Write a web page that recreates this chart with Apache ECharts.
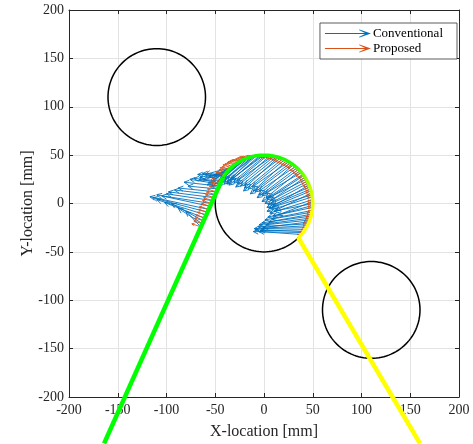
<!DOCTYPE html>
<html lang="en">
<head>
    <meta charset="UTF-8">
    <title>Quiver along path</title>
    <script src="https://cdn.jsdelivr.net/npm/echarts@6.0.0/dist/echarts.min.js"></script>
    <style>
        body { margin: 0; padding: 0; background: #fff; }
        #chart-container { width: 473px; height: 444px; }
    </style>
</head>
<body>
    <div id="chart-container"></div>
    <script>
        // axis ticks
        const xTicks = [-200, -150, -100, -50, 0, 50, 100, 150, 200];
        const yTicks = [-200, -150, -100, -50, 0, 50, 100, 150, 200];

        // obstacles (center x, center y, radius)
        const circleX = [-110, 0, 110];
        const circleY = [110, 0, -110];
        const circleR = [50, 50, 50];

        // path: incoming straight line, arc around middle circle, outgoing line
        const greenX = [-164, -42];
        const greenY = [-248, 27];
        const arcFrom = 147;   // degrees
        const arcTo = -45;
        const yellowX = [35, 160];
        const yellowY = [-35, -248];

        // arrow start points (on the path)
        const startX = [-65, -62, -59, -57, -54, -51, -49, -46, -44,
            -41, -38, -35, -32, -29, -25, -21, -17, -13, -9, -4, 0, 4, 9, 13, 17, 21, 25, 29, 32,
            35, 38, 41, 43, 45, 47, 48, 49, 50, 50, 50, 49, 48, 47, 45, 43, 41, 38,
            -63, -61, -58, -55, -53, -50, -47, -45,
            -40, -37, -34, -30, -27, -23, -19, -15, -11, -7, -2, 2, 7, 11, 15, 19, 23, 27, 30,
            34, 37, 40, 42, 44, 46, 48, 49, 50, 50, 50, 50, 49, 48, 46, 44, 42, 40];
        const startY = [-24, -18, -12, -6, 0, 6, 12, 18, 23,
            29, 32, 35, 38, 41, 43, 45, 47, 48, 49, 50, 50, 50, 49, 48, 47, 45, 43, 41, 38,
            35, 32, 29, 25, 21, 17, 13, 9, 4, 0, -4, -9, -13, -17, -21, -25, -29, -32,
            -21, -15, -9, -3, 3, 9, 15, 20,
            30, 34, 37, 40, 42, 44, 46, 48, 49, 50, 50, 50, 50, 49, 48, 46, 44, 42, 40,
            37, 34, 30, 27, 23, 19, 15, 11, 7, 2, -2, -7, -11, -15, -19, -23, -27, -30];

        // conventional arrow tips
        const convX = [-80, -95, -110, -117, -105, -98, -88, -82, -72,
            -68, -66, -62, -60, -55, -52, -48, -46, -42, -40, -38, -35, -31, -28, -24, -20, -16, -12, -9, -5,
            -2, 1, 3, 5, 4, 7, 5, 8, 6, 10, 4, 8, -2, 2, -6, -3, -9, -5,
            -88, -102, -114, -110, -100, -92, -78, -76,
            -63, -67, -57, -58, -50, -54, -44, -47, -38, -41, -33, -36, -27, -29, -20, -21, -11, -14, -5,
            -7, 2, -2, 7, 1, 9, 3, 12, 3, 14, 9, 1, 5, -5, -1, -10, -4, -11];
        const convY = [-8, 0, 4, 7, 8, 12, 16, 22, 26,
            30, 27, 24, 30, 22, 26, 20, 24, 22, 26, 20, 24, 21, 23, 18, 19, 15, 17, 12, 13,
            8, 10, 4, 6, -1, 0, -5, -4, -10, -8, -14, -16, -20, -22, -24, -26, -27, -29,
            -5, 1, 6, 9, 10, 14, 18, 25,
            31, 24, 27, 19, 28, 17, 27, 18, 21, 20, 25, 19, 20, 17, 16, 13, 13, 10, 9,
            6, 6, 2, 3, 0, -3, -4, -7, -8, -12, -13, -17, -19, -22, -25, -26, -28, -29];

        // proposed arrow tips
        const propX = [-74, -71, -68, -66, -63, -60, -58, -55, -53,
            -49, -46, -43, -40, -37, -33, -29, -25, -21, -16, -10, -5, -1, 4, 8, 12, 16, 20, 24, 27,
            30, 33, 36, 38, 40, 42, 43, 44, 45, 45, 45, 44, 43, 42, 40, 39, 37, 34,
            -72, -70, -67, -64, -62, -59, -56, -54,
            -48, -45, -42, -38, -35, -31, -27, -23, -18, -13, -7, -3, 2, 6, 10, 14, 18, 22, 25,
            29, 32, 35, 37, 39, 41, 43, 44, 45, 45, 45, 45, 44, 43, 41, 40, 38, 36];
        const propY = [-21, -15, -9, -3, 3, 9, 15, 21, 26,
            32, 35, 38, 41, 43, 45, 46, 48, 48, 49, 49, 48, 47, 46, 45, 43, 41, 39, 37, 34,
            31, 28, 26, 22, 18, 15, 11, 7, 3, -1, -5, -10, -14, -17, -21, -25, -29, -32,
            -18, -12, -6, 0, 6, 12, 18, 23,
            33, 37, 40, 42, 44, 45, 47, 48, 49, 49, 48, 47, 47, 46, 44, 42, 40, 38, 36,
            33, 30, 27, 24, 20, 17, 13, 9, 6, 1, -3, -8, -12, -15, -19, -23, -27, -30];

        const FONT = 'Liberation Serif';
        const TXT = '#262626';

        function arrowData(ex, ey) {
            return startX.map((x, i) => [x, startY[i], ex[i], ey[i]]);
        }

        function renderArrow(params, api) {
            const p0 = api.coord([api.value(0), api.value(1)]);
            const p1 = api.coord([api.value(2), api.value(3)]);
            const dx = p1[0] - p0[0], dy = p1[1] - p0[1];
            const len = Math.sqrt(dx * dx + dy * dy) || 1;
            const ux = dx / len, uy = dy / len;
            const h = Math.min(len * 0.25, 5);
            const w = h * 0.5;
            const bx = p1[0] - ux * h, by = p1[1] - uy * h;
            const color = api.visual('color');
            return {
                type: 'group',
                children: [
                    { type: 'line', shape: { x1: p0[0], y1: p0[1], x2: p1[0], y2: p1[1] },
                      style: { stroke: color, lineWidth: 0.9 } },
                    { type: 'polyline',
                      shape: { points: [[bx - uy * w, by + ux * w], p1, [bx + uy * w, by - ux * w]] },
                      style: { stroke: color, fill: null, lineWidth: 0.9 } }
                ]
            };
        }

        function renderCircle(params, api) {
            const cx = api.value(0), cy = api.value(1), r = api.value(2);
            const pts = [];
            for (let a = 0; a <= 360; a += 3) {
                const t = a * Math.PI / 180;
                pts.push(api.coord([cx + r * Math.cos(t), cy + r * Math.sin(t)]));
            }
            return { type: 'polyline', shape: { points: pts },
                     style: { stroke: '#000', fill: null, lineWidth: 1.5 } };
        }

        function renderArc(params, api) {
            const cx = api.value(0), cy = api.value(1), r = api.value(2);
            const pts = [];
            for (let a = arcFrom; a >= arcTo; a -= 2) {
                const t = a * Math.PI / 180;
                pts.push(api.coord([cx + r * Math.cos(t), cy + r * Math.sin(t)]));
            }
            const pa = api.coord([cx - r, cy + r]);
            const pb = api.coord([cx + r, cy - r]);
            const grad = new echarts.graphic.LinearGradient(pa[0], pa[1], pb[0], pb[1], [
                { offset: 0, color: '#00ff00' },
                { offset: 0.45, color: '#22ff00' },
                { offset: 0.65, color: '#bbff00' },
                { offset: 0.8, color: '#ffff00' },
                { offset: 1, color: '#ffff00' }
            ], true);
            return { type: 'polyline', shape: { points: pts },
                     style: { stroke: grad, fill: null, lineWidth: 3.5 } };
        }

        const arrowIcon = 'path://M0 3.5 L40 3.5 L34 0.6 L34.6 0 L46 4 L34.6 8 L34 7.4 L40 4.5 L0 4.5 Z';

        const axisCommon = {
            type: 'value', min: -200, max: 200, interval: 50,
            axisLine: { show: true, onZero: false, lineStyle: { color: TXT, width: 1 } },
            axisTick: { show: true, inside: true, length: 4, lineStyle: { color: TXT } }
        };

        const chart = echarts.init(document.getElementById('chart-container'));
        chart.setOption({
            animation: false,
            backgroundColor: '#fff',
            grid: { left: 69, right: 14, top: 10, bottom: 47, containLabel: false, outerBoundsMode: 'none' },
            legend: {
                data: [
                    { name: 'Conventional', icon: arrowIcon },
                    { name: 'Proposed', icon: arrowIcon }
                ],
                orient: 'vertical',
                right: 16, top: 23,
                itemWidth: 46, itemHeight: 8, itemGap: 2,
                padding: [4, 14, 4, 5],
                backgroundColor: '#fff',
                borderColor: '#333', borderWidth: 0.8, borderRadius: 0,
                textStyle: { fontFamily: FONT, fontSize: 13, color: '#000', padding: [0, 0, 0, -3] }
            },
            xAxis: [
                Object.assign({}, axisCommon, {
                    position: 'bottom',
                    name: 'X-location [mm]', nameLocation: 'middle', nameGap: 27,
                    nameMoveOverlap: false,
                    nameTextStyle: { fontFamily: FONT, fontSize: 16, color: TXT },
                    axisLabel: { fontFamily: FONT, fontSize: 14, color: TXT, margin: 6,
                                 formatter: v => xTicks.includes(v) ? String(v) : '' },
                    splitLine: { show: true, lineStyle: { color: '#e3e3e3', width: 1 } }
                }),
                Object.assign({}, axisCommon, {
                    position: 'top', axisLabel: { show: false }, splitLine: { show: false }
                })
            ],
            yAxis: [
                Object.assign({}, axisCommon, {
                    position: 'left',
                    name: 'Y-location [mm]', nameLocation: 'middle', nameGap: 33,
                    nameMoveOverlap: false,
                    nameTextStyle: { fontFamily: FONT, fontSize: 16, color: TXT },
                    axisLabel: { fontFamily: FONT, fontSize: 14, color: TXT, margin: 5,
                                 formatter: v => yTicks.includes(v) ? String(v) : '' },
                    splitLine: { show: true, lineStyle: { color: '#e3e3e3', width: 1 } }
                }),
                Object.assign({}, axisCommon, {
                    position: 'right', axisLabel: { show: false }, splitLine: { show: false }
                })
            ],
            series: [
                {
                    type: 'custom', name: 'circles', silent: true, z: 2,
                    renderItem: renderCircle,
                    data: circleX.map((x, i) => [x, circleY[i], circleR[i]])
                },
                {
                    type: 'custom', name: 'Conventional', z: 3,
                    itemStyle: { color: '#0072BD' },
                    renderItem: renderArrow,
                    encode: { x: [0, 2], y: [1, 3] },
                    data: arrowData(convX, convY)
                },
                {
                    type: 'custom', name: 'Proposed', z: 4,
                    itemStyle: { color: '#D95319' },
                    renderItem: renderArrow,
                    encode: { x: [0, 2], y: [1, 3] },
                    data: arrowData(propX, propY)
                },
                {
                    type: 'line', name: 'in', clip: false, showSymbol: false, z: 5, silent: true,
                    lineStyle: { color: '#00ff00', width: 4.5 },
                    data: greenX.map((x, i) => [x, greenY[i]])
                },
                {
                    type: 'custom', name: 'arc', z: 5, silent: true,
                    renderItem: renderArc,
                    data: [[circleX[1], circleY[1], circleR[1]]]
                },
                {
                    type: 'line', name: 'out', clip: false, showSymbol: false, z: 5, silent: true,
                    lineStyle: { color: '#ffff00', width: 4.5 },
                    data: yellowX.map((x, i) => [x, yellowY[i]])
                }
            ]
        });
    </script>
</body>
</html>
